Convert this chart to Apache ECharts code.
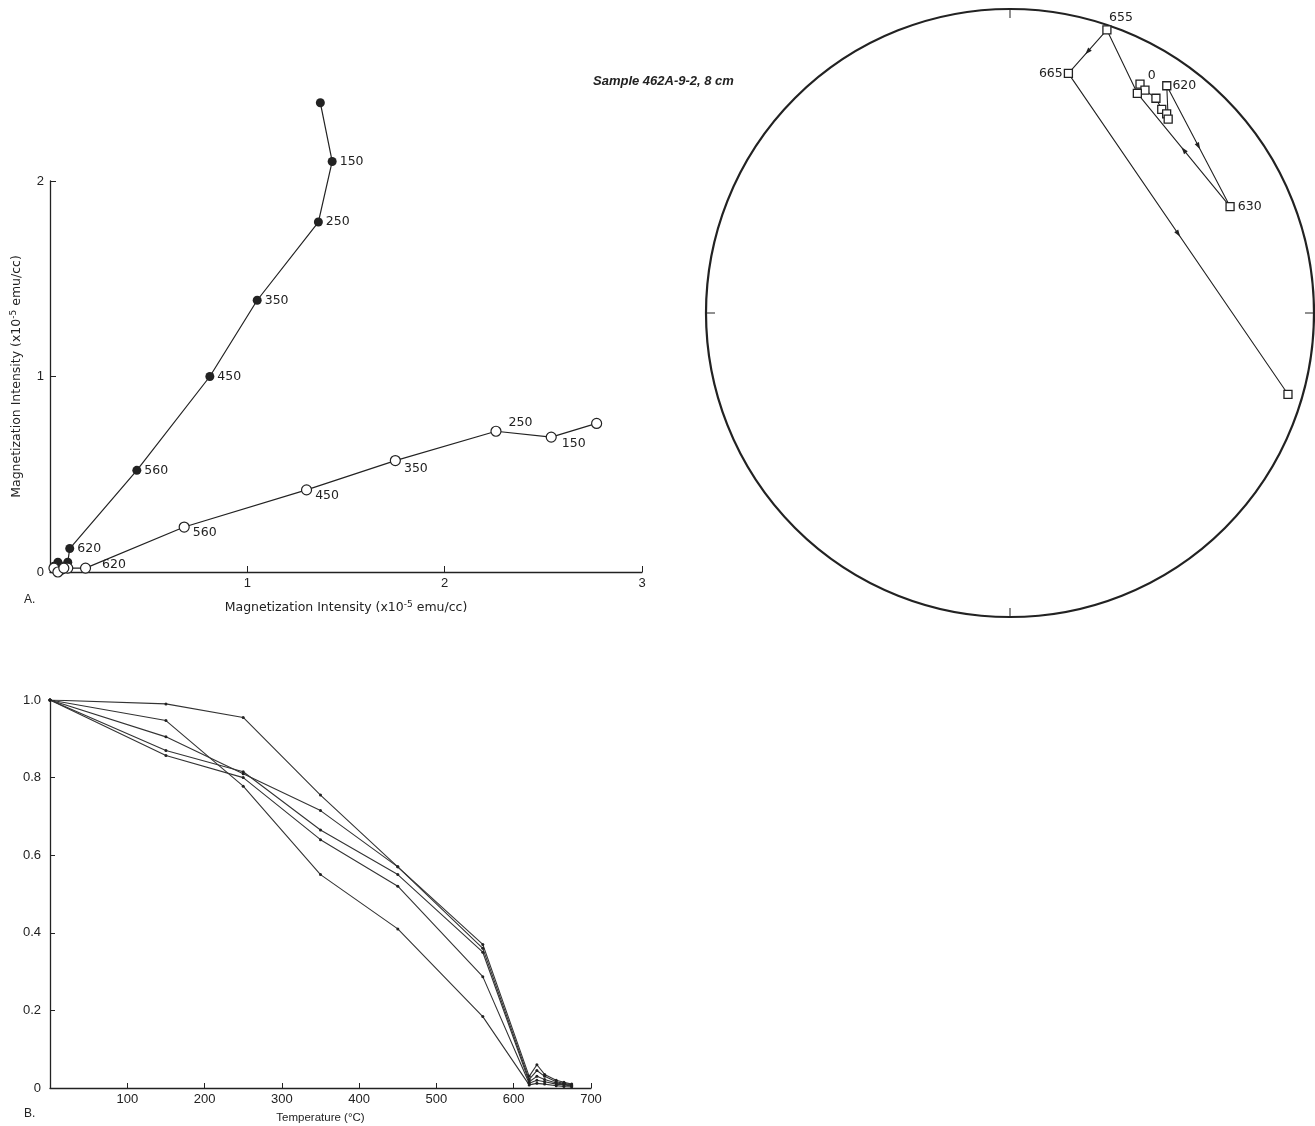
<!DOCTYPE html>
<html><head><meta charset="utf-8">
<script src="https://cdn.jsdelivr.net/npm/echarts@6/dist/echarts.min.js"></script>
<style>html,body{margin:0;padding:0;background:#fff}#c{width:1315px;height:1126px}</style>
</head><body><div id="c"></div>
<script>
// ---------- Panel A: orthogonal vector (Zijderveld) plot ----------
const stepsA = ['NRM','150','250','350','450','560','620','630','640','655','665','675'];
const solidX = [1.37, 1.43, 1.36, 1.05, 0.81, 0.44, 0.10, 0.09, 0.04, 0.03, 0.06, 0.02];
const solidY = [2.40, 2.10, 1.79, 1.39, 1.00, 0.52, 0.12, 0.05, 0.05, 0.02, 0.01, 0.03];
const openX  = [2.77, 2.54, 2.26, 1.75, 1.30, 0.68, 0.18, 0.09, 0.05, 0.02, 0.04, 0.07];
const openY  = [0.76, 0.69, 0.72, 0.57, 0.42, 0.23, 0.02, 0.02, 0.01, 0.02, 0.00, 0.02];
const labeledSolid = ['150','250','350','450','560','620'];
const labeledOpen  = ['150','250','350','450','560','620'];

// ---------- Stereonet (equal-area) ----------
const stepsS = ['0','150','250','350','450','560','620','630','640','655','665','675'];
const decS = [29.6, 31.2, 34.2, 36.7, 38.2, 39.2, 34.6, 64.2, 30.1, 18.9, 13.7, 106.3];
const incS = [14.5, 15.4, 15.7, 17.6, 17.8, 18.8, 10.1, 20.7, 17.6, 1.8, 20.0, 5.3];
const labeledS = ['0','620','630','655','665'];
const arrowPairs = [[6,7],[7,8],[9,10],[10,11]];

// ---------- Panel B: normalized intensity vs temperature ----------
const tempsB = [0, 150, 250, 350, 450, 560, 620, 630, 640, 655, 665, 675];
const curve1 = [1.0, 0.99, 0.955, 0.755, 0.57, 0.37, 0.030, 0.060, 0.035, 0.020, 0.015, 0.010];
const curve2 = [1.0, 0.905, 0.81, 0.715, 0.57, 0.36, 0.022, 0.045, 0.030, 0.016, 0.012, 0.008];
const curve3 = [1.0, 0.87, 0.815, 0.665, 0.55, 0.35, 0.016, 0.030, 0.022, 0.013, 0.010, 0.006];
const curve4 = [1.0, 0.857, 0.80, 0.64, 0.52, 0.287, 0.012, 0.020, 0.016, 0.010, 0.008, 0.005];
const curve5 = [1.0, 0.947, 0.778, 0.55, 0.41, 0.184, 0.008, 0.012, 0.010, 0.006, 0.004, 0.003];
const curvesB = [curve1, curve2, curve3, curve4, curve5];

// ---------- styling helpers ----------
const INK = '#222';
const FONT = 'Liberation Sans';
const WIDE = 'DejaVu Sans';
const labelPosOpen = {
  '150': {position:'right', offset:[2,7]},
  '250': {position:'right', offset:[4,-8]},
  '350': {position:'right', offset:[0,8]},
  '450': {position:'right', offset:[0,6]},
  '560': {position:'right', offset:[0,6]},
  '620': {position:'right', offset:[8,-3]}
};
const labelPosS = {
  '0':   {position:'right', offset:[0,-8]},
  '620': {position:'right', offset:[-2,0]},
  '630': {position:'right', offset:[0,0]},
  '655': {position:'top', offset:[14,2]},
  '665': {position:'left', offset:[2,0]}
};
const rho = inc => Math.SQRT2 * Math.sin((90 - Math.abs(inc)) / 2 * Math.PI / 180);
const stereoPts = decS.map((d,i) => [rho(incS[i]), d]);

const txt = {color: INK, fontFamily: FONT, fontSize: 13};
const ptLabel = {color: INK, fontFamily: WIDE, fontSize: 12.5};
const nameStyle = {color: INK, fontFamily: WIDE, fontSize: 12.5,
  rich: {sup: {fontSize: 9, verticalAlign: 'top', padding: [0,0,7,0], color: INK, fontFamily: WIDE}}};

const option = {
  backgroundColor: '#fff',
  animation: false,
  textStyle: {fontFamily: FONT, color: INK},
  title: {
    text: 'Sample 462A-9-2, 8 cm', left: 588, top: 70,
    textStyle: {fontSize: 13, fontWeight: 'bold', fontStyle: 'italic', color: INK, fontFamily: FONT}
  },
  graphic: [
    {type:'text', left: 24, top: 594, style:{text:'A.', fill: INK, font: '12px "Liberation Sans"'}},
    {type:'text', left: 24, top: 1108, style:{text:'B.', fill: INK, font: '12px "Liberation Sans"'}}
  ],
  grid: [
    {left: 50, top: 181, width: 592, height: 391},
    {left: 50, top: 700, width: 541, height: 388}
  ],
  xAxis: [
    {gridIndex: 0, type: 'value', min: 0, max: 3, interval: 1,
     axisLine: {lineStyle: {color: INK, width: 1.3}},
     axisTick: {inside: true, length: 6, lineStyle: {color: INK}},
     axisLabel: Object.assign({showMinLabel: false, margin: 5}, txt),
     splitLine: {show: false},
     name: 'Magnetization Intensity (x10{sup|-5} emu/cc)', nameLocation: 'middle', nameGap: 28,
     nameTextStyle: nameStyle
    },
    {gridIndex: 1, type: 'value', min: 0, max: 700, interval: 100,
     axisLine: {lineStyle: {color: INK, width: 1.3}},
     axisTick: {inside: true, length: 5, lineStyle: {color: INK}},
     axisLabel: Object.assign({showMinLabel: false, margin: 5}, txt),
     splitLine: {show: false},
     name: 'Temperature (°C)', nameLocation: 'middle', nameGap: 24,
     nameTextStyle: {color: INK, fontFamily: FONT, fontSize: 11.5}
    }
  ],
  yAxis: [
    {gridIndex: 0, type: 'value', min: 0, max: 2, interval: 1,
     axisLine: {lineStyle: {color: INK, width: 1.3}},
     axisTick: {inside: true, length: 6, lineStyle: {color: INK}},
     axisLabel: Object.assign({margin: 6}, txt),
     splitLine: {show: false},
     name: 'Magnetization Intensity (x10{sup|-5} emu/cc)', nameLocation: 'middle', nameGap: 25, nameRotate: 90,
     nameTextStyle: nameStyle
    },
    {gridIndex: 1, type: 'value', min: 0, max: 1, interval: 0.2,
     axisLine: {lineStyle: {color: INK, width: 1.3}},
     axisTick: {inside: true, length: 5, lineStyle: {color: INK}},
     axisLabel: Object.assign({margin: 9, formatter: v => v === 0 ? '0' : v.toFixed(1)}, txt),
     splitLine: {show: false}
    }
  ],
  polar: {center: [1010, 313], radius: 304},
  angleAxis: {
    type: 'value', min: 0, max: 360, interval: 90, startAngle: 90, clockwise: true,
    axisLine: {lineStyle: {color: INK, width: 2.2}},
    axisTick: {show: true, inside: true, length: 9, lineStyle: {color: INK, width: 1}},
    axisLabel: {show: false}, splitLine: {show: false}
  },
  radiusAxis: {type: 'value', min: 0, max: 1, show: false,
    axisLine: {show: false}, axisTick: {show: false}, axisLabel: {show: false}, splitLine: {show: false}},
  series: [
    // Panel A solid (horizontal projection)
    {type: 'line', xAxisIndex: 0, yAxisIndex: 0, clip: false,
     symbol: 'circle', symbolSize: 9, showAllSymbol: true,
     lineStyle: {color: INK, width: 1.2}, itemStyle: {color: INK},
     data: solidX.map((x,i) => ({
       value: [x, solidY[i]],
       label: Object.assign({show: labeledSolid.includes(stepsA[i]), position: 'right', distance: 3,
               formatter: stepsA[i]}, ptLabel)
     }))
    },
    // Panel A open (vertical projection)
    {type: 'line', xAxisIndex: 0, yAxisIndex: 0, clip: false,
     symbol: 'circle', symbolSize: 10, showAllSymbol: true,
     lineStyle: {color: INK, width: 1.2}, itemStyle: {color: '#fff', borderColor: INK, borderWidth: 1.2},
     data: openX.map((x,i) => ({
       value: [x, openY[i]],
       label: Object.assign({show: labeledOpen.includes(stepsA[i]), distance: 3,
               formatter: stepsA[i]}, ptLabel, labelPosOpen[stepsA[i]] || {})
     }))
    },
    // Panel B curves
    ...curvesB.map(c => ({
      type: 'line', xAxisIndex: 1, yAxisIndex: 1,
      symbol: 'circle', symbolSize: 3, showAllSymbol: true,
      lineStyle: {color: '#333', width: 1.1}, itemStyle: {color: '#222'},
      data: tempsB.map((t,i) => [t, c[i]])
    })),
    // Stereonet path
    {type: 'line', coordinateSystem: 'polar', clip: false,
     symbol: 'rect', symbolSize: 8, showAllSymbol: true,
     lineStyle: {color: INK, width: 1.1},
     itemStyle: {color: '#fff', borderColor: INK, borderWidth: 1.3},
     data: stereoPts.map((p,i) => ({
       value: p,
       label: Object.assign({show: labeledS.includes(stepsS[i]), formatter: stepsS[i], distance: 3},
               ptLabel, labelPosS[stepsS[i]] || {})
     }))
    },
    // Stereonet direction arrowheads
    {type: 'custom', coordinateSystem: 'polar', clip: false,
     encode: {radius: 0, angle: 1},
     data: arrowPairs.map(([a,b]) => [stereoPts[a][0], stereoPts[a][1], stereoPts[b][0], stereoPts[b][1]]),
     renderItem: function (params, api) {
       const p1 = api.coord([api.value(0), api.value(1)]);
       const p2 = api.coord([api.value(2), api.value(3)]);
       const mx = (p1[0] + p2[0]) / 2, my = (p1[1] + p2[1]) / 2;
       const a = Math.atan2(p2[1] - p1[1], p2[0] - p1[0]);
       const L = 7, W = 2.4, c = Math.cos(a), s = Math.sin(a);
       const tip = [mx + c * L / 2, my + s * L / 2];
       const bx = mx - c * L / 2, by = my - s * L / 2;
       return {type: 'polygon', shape: {points: [tip, [bx - s * W, by + c * W], [bx + s * W, by - c * W]]},
               style: {fill: INK}};
     }
    }
  ]
};

const chart = echarts.init(document.getElementById('c'), null, {renderer: 'canvas'});
chart.setOption(option);
</script>
</body></html>
